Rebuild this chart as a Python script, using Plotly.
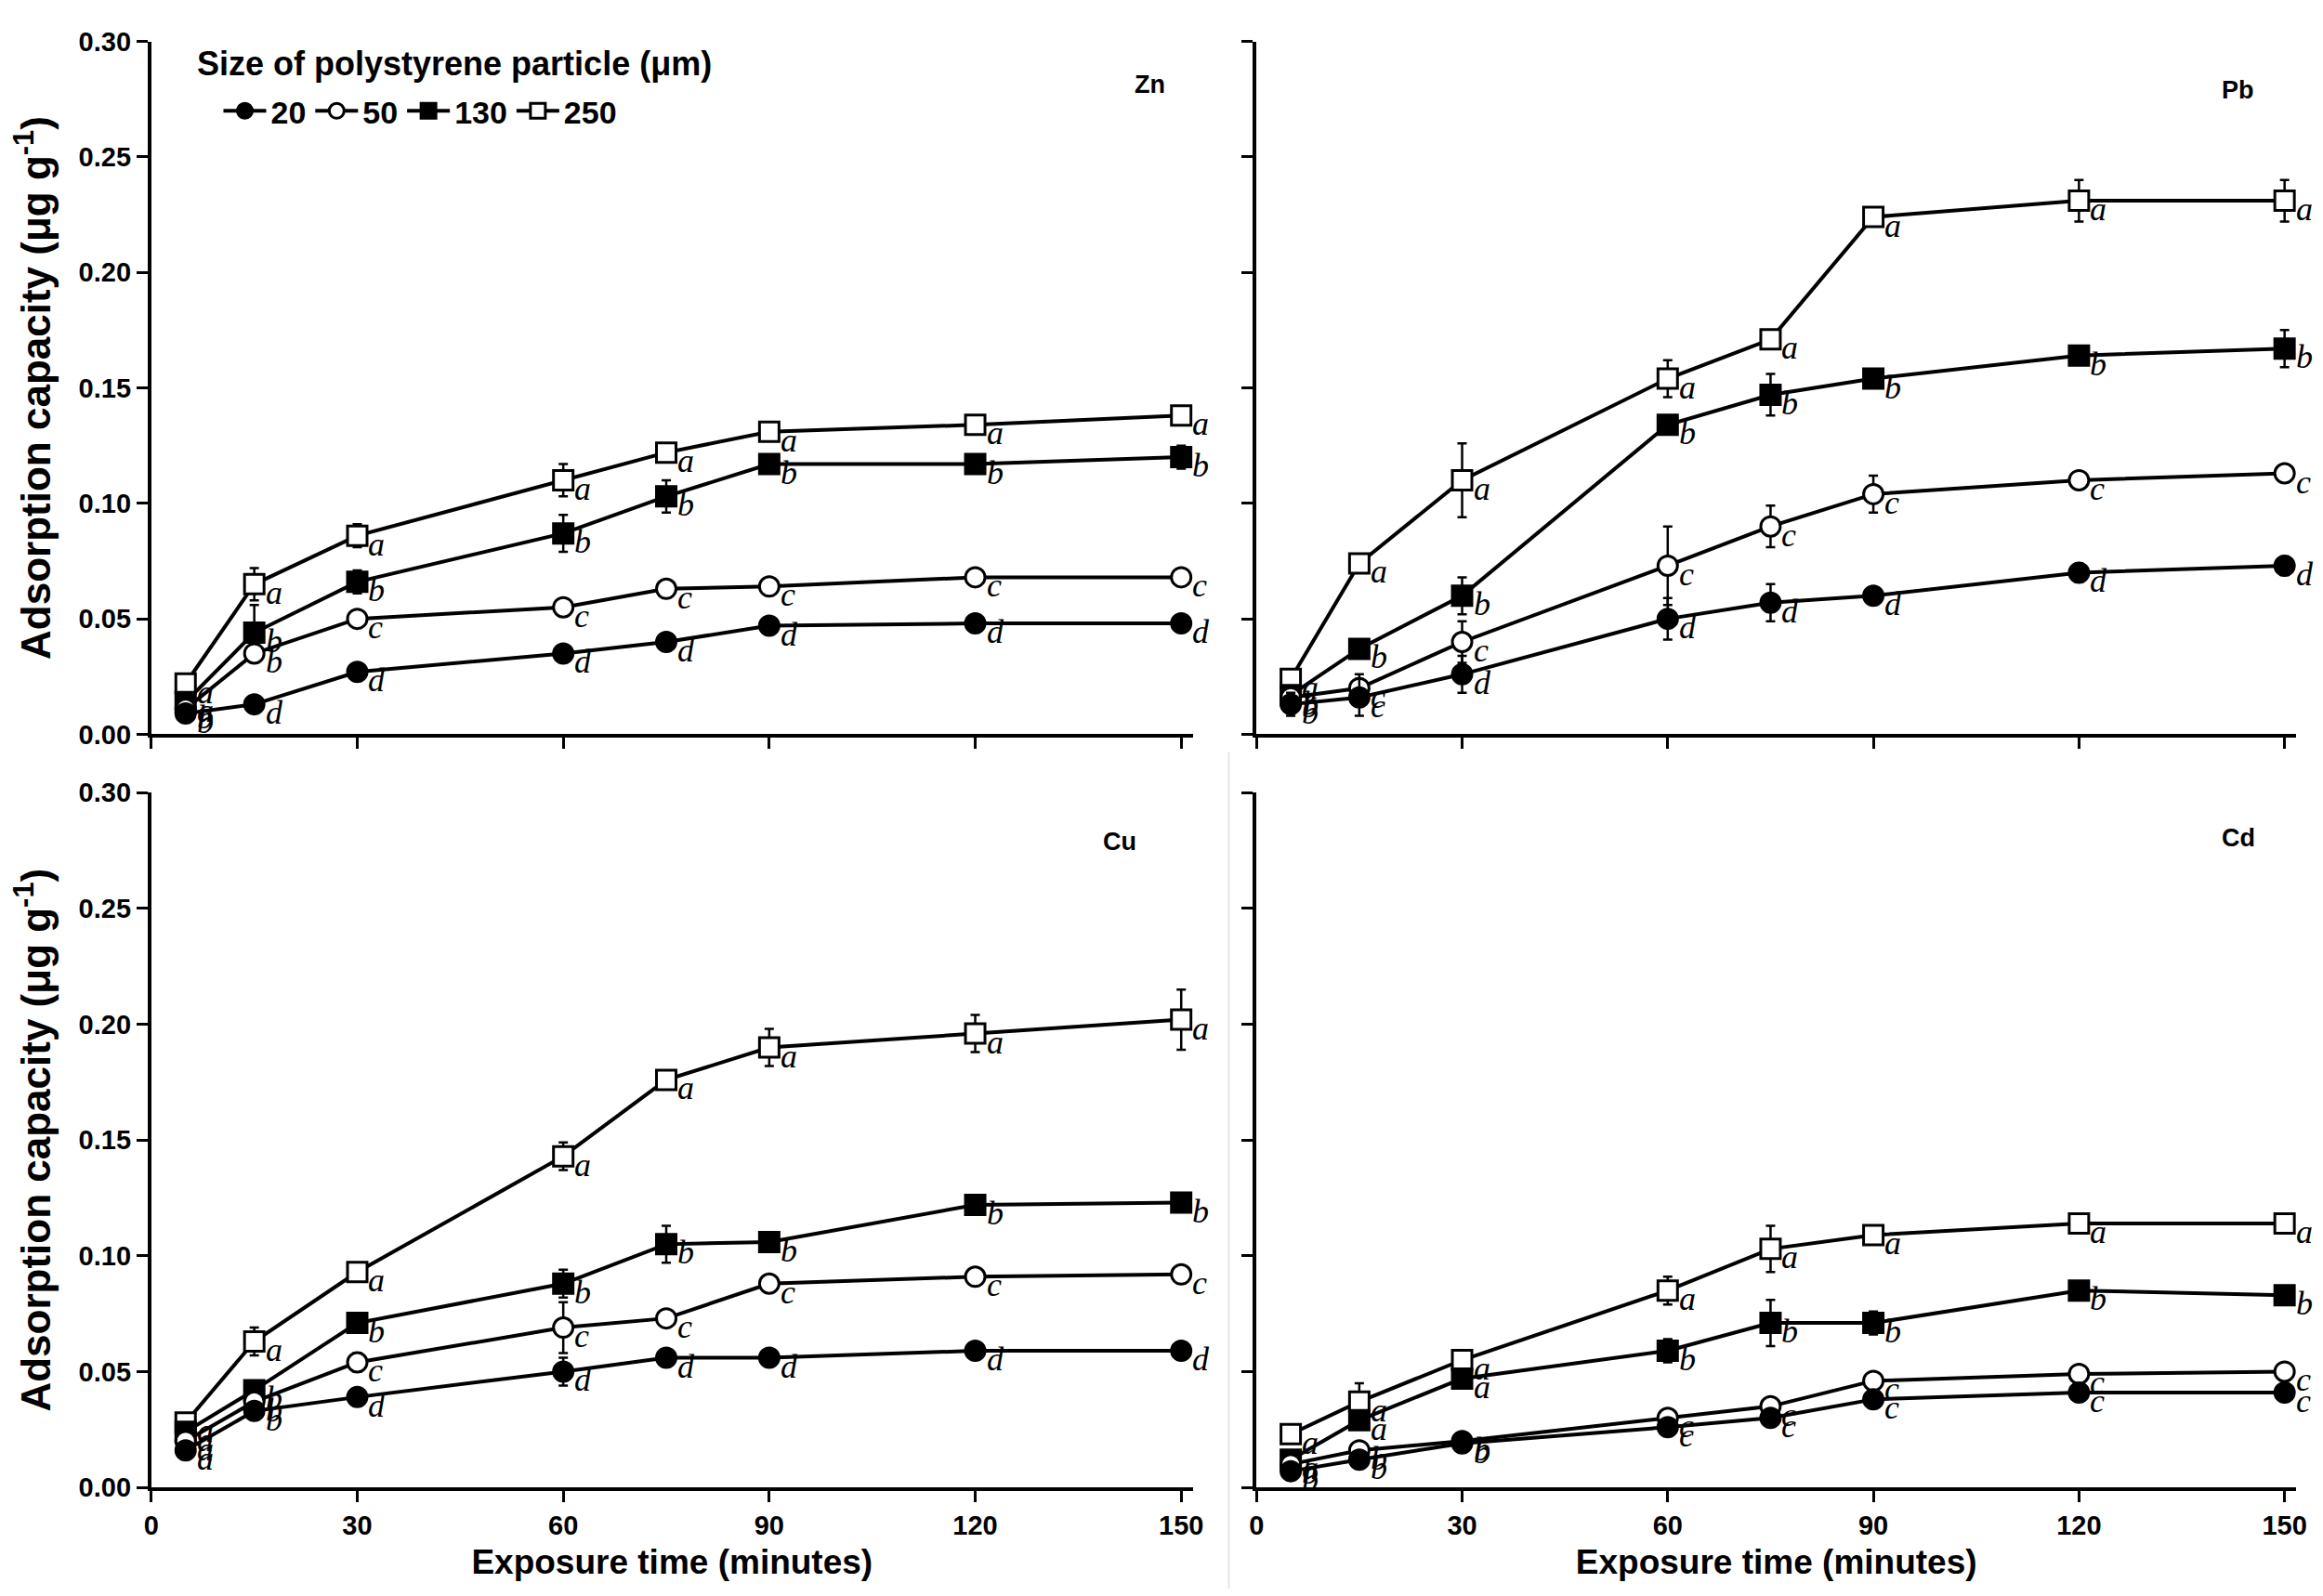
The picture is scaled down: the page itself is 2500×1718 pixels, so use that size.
import plotly.graph_objects as go

# exposure time (minutes)
time = [5, 15, 30, 60, 75, 90, 120, 150]
sizes = ["20", "50", "130", "250"]

# Zn
zn_20 = [0.009, 0.013, 0.027, 0.035, 0.040, 0.047, 0.048, 0.048]
zn_50 = [0.011, 0.035, 0.050, 0.055, 0.063, 0.064, 0.068, 0.068]
zn_130 = [0.014, 0.044, 0.066, 0.087, 0.103, 0.117, 0.117, 0.120]
zn_250 = [0.022, 0.065, 0.086, 0.110, 0.122, 0.131, 0.134, 0.138]
zn_err_20 = [0.001, 0.001, 0.001, 0.001, 0.001, 0.001, 0.001, 0.001]
zn_err_50 = [0.001, 0.002, 0.001, 0.001, 0.001, 0.001, 0.001, 0.001]
zn_err_130 = [0.001, 0.012, 0.005, 0.008, 0.007, 0.002, 0.002, 0.005]
zn_err_250 = [0.001, 0.007, 0.005, 0.007, 0.002, 0.002, 0.002, 0.002]
zn_let_20 = ["b", "d", "d", "d", "d", "d", "d", "d"]
zn_let_50 = ["b", "b", "c", "c", "c", "c", "c", "c"]
zn_let_130 = ["a", "b", "b", "b", "b", "b", "b", "b"]
zn_let_250 = ["a", "a", "a", "a", "a", "a", "a", "a"]

# Pb
pb_20 = [0.013, 0.016, 0.026, 0.050, 0.057, 0.060, 0.070, 0.073]
pb_50 = [0.016, 0.020, 0.040, 0.073, 0.090, 0.104, 0.110, 0.113]
pb_130 = [0.017, 0.037, 0.060, 0.134, 0.147, 0.154, 0.164, 0.167]
pb_250 = [0.024, 0.074, 0.110, 0.154, 0.171, 0.224, 0.231, 0.231]
pb_err_20 = [0.005, 0.008, 0.008, 0.009, 0.008, 0.002, 0.004, 0.004]
pb_err_50 = [0.002, 0.006, 0.009, 0.017, 0.009, 0.008, 0.003, 0.003]
pb_err_130 = [0.002, 0.003, 0.008, 0.004, 0.009, 0.003, 0.003, 0.008]
pb_err_250 = [0.002, 0.003, 0.016, 0.008, 0.003, 0.002, 0.009, 0.009]
pb_let_20 = ["b", "c", "d", "d", "d", "d", "d", "d"]
pb_let_50 = ["b", "c", "c", "c", "c", "c", "c", "c"]
pb_let_130 = ["b", "b", "b", "b", "b", "b", "b", "b"]
pb_let_250 = ["a", "a", "a", "a", "a", "a", "a", "a"]

# Cu
cu_20 = [0.016, 0.033, 0.039, 0.050, 0.056, 0.056, 0.059, 0.059]
cu_50 = [0.020, 0.037, 0.054, 0.069, 0.073, 0.088, 0.091, 0.092]
cu_130 = [0.024, 0.042, 0.071, 0.088, 0.105, 0.106, 0.122, 0.123]
cu_250 = [0.028, 0.063, 0.093, 0.143, 0.176, 0.190, 0.196, 0.202]
cu_err_20 = [0.002, 0.002, 0.002, 0.006, 0.002, 0.002, 0.002, 0.002]
cu_err_50 = [0.002, 0.002, 0.004, 0.011, 0.002, 0.002, 0.002, 0.003]
cu_err_130 = [0.002, 0.002, 0.002, 0.006, 0.008, 0.002, 0.002, 0.004]
cu_err_250 = [0.002, 0.006, 0.002, 0.006, 0.002, 0.008, 0.008, 0.013]
cu_let_20 = ["a", "b", "d", "d", "d", "d", "d", "d"]
cu_let_50 = ["a", "b", "c", "c", "c", "c", "c", "c"]
cu_let_130 = ["a", "b", "b", "b", "b", "b", "b", "b"]
cu_let_250 = ["a", "a", "a", "a", "a", "a", "a", "a"]

# Cd
cd_20 = [0.007, 0.012, 0.019, 0.026, 0.030, 0.038, 0.041, 0.041]
cd_50 = [0.010, 0.016, 0.020, 0.030, 0.035, 0.046, 0.049, 0.050]
cd_130 = [0.012, 0.029, 0.047, 0.059, 0.071, 0.071, 0.085, 0.083]
cd_250 = [0.023, 0.037, 0.055, 0.085, 0.103, 0.109, 0.114, 0.114]
cd_err_20 = [0.002, 0.002, 0.002, 0.002, 0.002, 0.002, 0.002, 0.002]
cd_err_50 = [0.002, 0.002, 0.002, 0.002, 0.002, 0.002, 0.002, 0.002]
cd_err_130 = [0.002, 0.004, 0.002, 0.005, 0.010, 0.005, 0.002, 0.002]
cd_err_250 = [0.002, 0.008, 0.003, 0.006, 0.010, 0.004, 0.003, 0.002]
cd_let_20 = ["b", "b", "b", "c", "c", "c", "c", "c"]
cd_let_50 = ["b", "b", "b", "c", "c", "c", "c", "c"]
cd_let_130 = ["a", "a", "a", "b", "b", "b", "b", "b"]
cd_let_250 = ["a", "a", "a", "a", "a", "a", "a", "a"]

metals = ["Zn", "Pb", "Cu", "Cd"]
values = {"Zn": [zn_20, zn_50, zn_130, zn_250], "Pb": [pb_20, pb_50, pb_130, pb_250],
          "Cu": [cu_20, cu_50, cu_130, cu_250], "Cd": [cd_20, cd_50, cd_130, cd_250]}
errors = {"Zn": [zn_err_20, zn_err_50, zn_err_130, zn_err_250],
          "Pb": [pb_err_20, pb_err_50, pb_err_130, pb_err_250],
          "Cu": [cu_err_20, cu_err_50, cu_err_130, cu_err_250],
          "Cd": [cd_err_20, cd_err_50, cd_err_130, cd_err_250]}
letters = {"Zn": [zn_let_20, zn_let_50, zn_let_130, zn_let_250],
           "Pb": [pb_let_20, pb_let_50, pb_let_130, pb_let_250],
           "Cu": [cu_let_20, cu_let_50, cu_let_130, cu_let_250],
           "Cd": [cd_let_20, cd_let_50, cd_let_130, cd_let_250]}

# marker styles: 20 filled circle, 50 open circle, 130 filled square, 250 open square
symbols = ["circle", "circle", "square", "square"]
fills = ["black", "white", "black", "white"]

SANS = "Liberation Sans, Arial, sans-serif"
SERIF = "Liberation Serif, Times New Roman, serif"

# axis domains (paper fractions)
x_dom = {"Zn": [0.0592, 0.5112], "Pb": [0.5388, 0.990], "Cu": [0.0592, 0.5112], "Cd": [0.5388, 0.990]}
y_dom = {"Zn": [0.5454, 0.9878], "Pb": [0.5454, 0.9878], "Cu": [0.0646, 0.5081], "Cd": [0.0646, 0.5081]}
label_pos = {"Zn": (0.975, 0.96), "Pb": (0.961, 0.953), "Cu": (0.948, 0.952), "Cd": (0.962, 0.957)}

fig = go.Figure()
annotations = []

for i, m in enumerate(metals):
    n = "" if i == 0 else str(i + 1)
    xa, ya = "x" + n, "y" + n
    # draw larger particles first so the small ones sit on top
    for k in [3, 2, 1, 0]:
        fig.add_trace(go.Scatter(
            x=time, y=values[m][k], xaxis=xa, yaxis=ya,
            mode="lines+markers", name=sizes[k],
            showlegend=(i == 0), legendrank=k + 1,
            line=dict(color="black", width=4),
            marker=dict(symbol=symbols[k], size=21, color=fills[k],
                        line=dict(color="black", width=3)),
            error_y=dict(type="data", array=errors[m][k], visible=True,
                         color="black", thickness=2.5, width=5),
        ))
        for t, v, lt in zip(time, values[m][k], letters[m][k]):
            annotations.append(dict(
                x=t, y=v, xref=xa, yref=ya, text=lt, showarrow=False,
                xanchor="left", yanchor="middle", xshift=10, yshift=-9,
                font=dict(family=SERIF, size=36, color="black", style="italic"),
            ))
    lx, ly = label_pos[m]
    annotations.append(dict(
        x=lx, y=ly, xref=xa + " domain", yref=ya + " domain", text="<b>" + m + "</b>",
        showarrow=False, font=dict(family=SANS, size=27, color="black"),
    ))

    bottom = m in ("Cu", "Cd")
    left = m in ("Zn", "Cu")
    fig.layout["xaxis" + n] = dict(
        domain=x_dom[m], anchor=ya, range=[0, 151.7],
        tickvals=[0, 30, 60, 90, 120, 150], showticklabels=bottom,
        ticks="outside", ticklen=12, tickwidth=3, tickcolor="black",
        showline=True, linewidth=4, linecolor="black", showgrid=False, zeroline=False,
        tickfont=dict(family=SANS, size=29, color="black", weight="bold"),
        title=dict(text="<b>Exposure time (minutes)</b>" if bottom else "",
                   font=dict(family=SANS, size=37, color="black"), standoff=12),
    )
    fig.layout["yaxis" + n] = dict(
        domain=y_dom[m], anchor=xa, range=[0, 0.30],
        tickvals=[0, 0.05, 0.10, 0.15, 0.20, 0.25, 0.30], tickformat=".2f",
        showticklabels=left,
        ticks="outside", ticklen=12, tickwidth=3, tickcolor="black",
        showline=True, linewidth=4, linecolor="black", showgrid=False, zeroline=False,
        tickfont=dict(family=SANS, size=29, color="black", weight="bold"),
        title=dict(text="<b>Adsorption capacity (μg g<sup>-1</sup>)</b>" if left else "",
                   font=dict(family=SANS, size=44, color="black"), standoff=26),
    )

# legend title drawn as its own text so the entries can sit indented below it
annotations.append(dict(
    x=0.0784, y=1 - 45 / 1718, xref="paper", yref="paper", xanchor="left", yanchor="middle",
    text="<b>Size of polystyrene particle (μm)</b>", showarrow=False,
    font=dict(family=SANS, size=36, color="black"),
))

fig.update_layout(
    width=2500, height=1718,
    margin=dict(l=0, r=0, t=0, b=0),
    paper_bgcolor="white", plot_bgcolor="white",
    annotations=annotations,
    legend=dict(
        orientation="h", x=0.0885, y=1 - 68 / 1718, xanchor="left", yanchor="top",
        font=dict(family=SANS, size=34, color="black", weight="bold"),
        bgcolor="rgba(0,0,0,0)", itemwidth=46, tracegroupgap=0,
    ),
    shapes=[dict(type="line", xref="paper", yref="paper", x0=0.5268, x1=0.5268,
                 y0=0, y1=0.534, line=dict(color="#e6e6e6", width=2))],
)

fig.write_html("out.html")
